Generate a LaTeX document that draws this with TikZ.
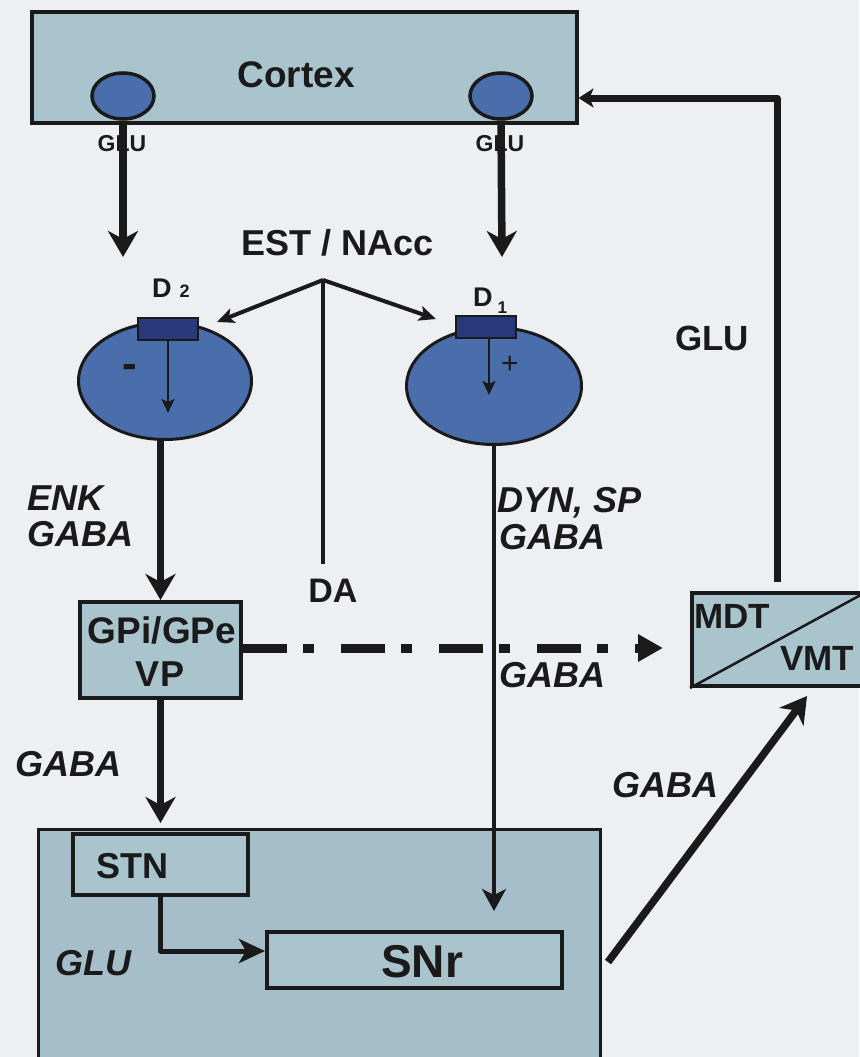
\documentclass[tikz,border=0pt]{standalone}
\usepackage{fontspec}
\setmainfont{Liberation Sans}
\usetikzlibrary{arrows.meta,shapes.geometric}
\definecolor{bg}{HTML}{EEEFF2}
\definecolor{boxfill}{HTML}{A9C4CD}
\definecolor{bigfill}{HTML}{A6BECA}
\definecolor{cellblue}{HTML}{4A6EAB}
\definecolor{recblue}{HTML}{28397A}
\definecolor{ink}{HTML}{1A1A1A}
\newcommand{\fsz}[1]{\fontsize{#1}{#1}\selectfont}
\tikzset{
  region/.style={rectangle, draw=ink, line width=4pt, fill=boxfill, inner sep=0pt},
  cell/.style={ellipse, draw=ink, line width=3.5pt, fill=cellblue, inner sep=0pt},
  rec/.style={rectangle, draw=ink, line width=2pt, fill=recblue, inner sep=0pt},
  lbl/.style={text=ink, font=\bfseries\fsz{35}, inner sep=0pt},
  ilbl/.style={text=ink, font=\bfseries\itshape\fsz{36}, inner sep=0pt, anchor=base west},
  thickarrow/.style={draw=ink, line width=7.5pt, -{Stealth[length=26pt,width=30pt,inset=8pt]}},
  midarrow/.style={draw=ink, line width=3.5pt, -{Stealth[length=22pt,width=24pt,inset=6pt]}},
  thinarrow/.style={draw=ink, line width=2.2pt, -{Stealth[length=14pt,width=13pt,inset=3pt]}},
  daarrow/.style={draw=ink, line width=4pt, -{Stealth[length=17pt,width=15pt,inset=4pt]}},
  dasharrow/.style={draw=ink, line width=9pt, dash pattern=on 44pt off 16pt on 11pt off 27pt, -{Triangle[length=25pt,width=26pt]}},
  fbarrow/.style={draw=ink, line width=7pt, line join=round, -{Stealth[length=15pt,width=19pt,inset=4pt]}},
  elbowarrow/.style={draw=ink, line width=5pt, line join=round, -{Stealth[length=26pt,width=24pt,inset=7pt]}},
}
\begin{document}
\begin{tikzpicture}[x=1pt,y=-1pt]
\fill[bg] (0,0) rectangle (859,1057);
\useasboundingbox (0,0) rectangle (859,1057);

% bottom region (basal ganglia output)
\node[region, fill=bigfill, line width=3pt, minimum width=562pt, minimum height=270pt] (basal) at (319.5,964.5) {};
\node[region, minimum width=175pt, minimum height=61pt] (stn) at (160.5,864.5) {};
\node[lbl, font=\bfseries\fsz{36}, anchor=base west] (stnlbl) at (96,878) {STN};
\node[region, minimum width=295pt, minimum height=56pt] (snr) at (414.5,960) {};
\node[lbl, font=\bfseries\fsz{46}, anchor=base west] (snrlbl) at (381,977) {SNr};
\node[ilbl] (glubot) at (55,975) {GLU};

% cortex
\node[region, minimum width=545pt, minimum height=111pt] (cortex) at (304,67.5) {};
\node[lbl, font=\bfseries\fsz{37}, anchor=base] (cortexlbl) at (296,87) {Cortex};
\node[cell, minimum width=62pt, minimum height=46pt] (gluL) at (123,96) {};
\node[cell, minimum width=62pt, minimum height=46pt] (gluR) at (501,96) {};
\node[lbl, font=\bfseries\fsz{23}, anchor=base] (gluLl) at (122,151) {GLU};
\node[lbl, font=\bfseries\fsz{23}, anchor=base] (gluRl) at (500,151) {GLU};
\coordinate (aL) at (123,257);
\coordinate (aR) at (502,257);
\draw[thickarrow] (gluL.south) -- (aL);
\draw[thickarrow] (gluR.south) -- (aR);

% striatum
\node[lbl, font=\bfseries\fsz{36}, anchor=base] (est) at (338,255) {EST / NAcc};
\node[cell, line width=3pt, minimum width=173pt, minimum height=117pt] (ellL) at (165,381) {};
\node[cell, line width=3pt, minimum width=175pt, minimum height=117pt] (ellR) at (494,386) {};
\node[rec, minimum width=60pt, minimum height=22pt] (recL) at (168,329) {};
\node[rec, minimum width=60pt, minimum height=22pt] (recR) at (486,327) {};
\node[lbl, font=\bfseries\fsz{27}, anchor=base west] (d2) at (152,297) {D\hspace{8pt}{\fsz{18}2}};
\node[lbl, font=\bfseries\fsz{27}, anchor=base west] (d1) at (473,306) {D\hspace{5pt}\raisebox{-7pt}{\fsz{17}1}};
\draw[thinarrow] (recL.south) -- ++(0,72);
\draw[thinarrow] ([xshift=3pt]recR.south) -- ++(0,56);
\node[lbl, font=\bfseries\fsz{44}, anchor=base] (minus) at (130,378) {-};
\node[lbl, font=\fsz{30}, anchor=base] (plus) at (510,373) {+};

% dopamine
\coordinate (datop) at (323,280);
\coordinate (tipL) at (217,322);
\coordinate (tipR) at (436,319);
\node[lbl, font=\bfseries\fsz{34}, anchor=base] (da) at (333,602) {DA};
\draw[ink, line width=4.5pt, shorten >=14pt] (datop) -- (datop |- da.north);
\draw[daarrow] (datop) -- (tipL);
\draw[daarrow] (datop) -- (tipR);

% pathway labels
\node[ilbl] (enk) at (27,510) {ENK};
\node[ilbl] (gabaA) at (27,546) {GABA};
\node[ilbl] (dyn) at (497,512) {DYN, SP};
\node[ilbl] (gabaB) at (499,549) {GABA};
\node[ilbl] (gabaC) at (499,687) {GABA};
\node[ilbl] (gabaD) at (15,776) {GABA};
\node[ilbl] (gabaE) at (612,797) {GABA};
\node[lbl, anchor=base] (glufb) at (712,350) {GLU};

% pallidum
\node[region, minimum width=161pt, minimum height=96pt] (gpi) at (160.5,650) {};
\node[lbl, font=\bfseries\fsz{37}, anchor=base] (gpilbl) at (162,643) {GPi/GPe};
\node[lbl, font=\bfseries\fsz{36}, anchor=base] (vplbl) at (160,686) {VP};

% thalamus
\node[region, minimum width=174pt, minimum height=93pt] (mdt) at (779,639.5) {};
\draw[ink, line width=2.5pt] (mdt.south west) -- (mdt.north east);
\node[lbl, anchor=base west] (mdtlbl) at (694,628) {MDT};
\node[lbl, anchor=base west] (vmtlbl) at (780,670) {VMT};

% connectors
\draw[thickarrow] (gpi.north |- ellL.south) -- (gpi.north);
\draw[midarrow, shorten >=19pt] (ellR.south) -- (ellR.south |- snr.north);
\draw[dasharrow, shorten >=27pt] ([yshift=2pt]gpi.east) -- ([yshift=2pt]gpi.east -| mdt.west);
\coordinate (fbtop) at (777,98);
\draw[fbarrow] ([yshift=9pt]mdt.north -| fbtop) -- (fbtop) -- (cortex.east |- fbtop);
\draw[thickarrow, shorten >=9pt] (gpi.south) -- (stn.north);
\draw[elbowarrow] (stn.south) |- ([yshift=9pt]snr.west);
\coordinate (dstart) at (608,962);
\coordinate (dtip) at (807,696);
\draw[thickarrow] (dstart) -- (dtip);
\end{tikzpicture}
\end{document}
